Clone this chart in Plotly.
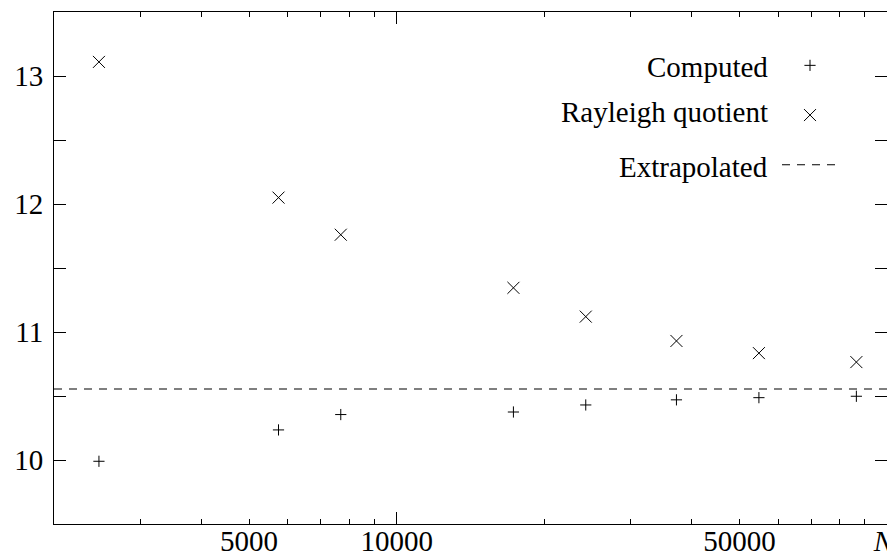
import math
import plotly.graph_objects as go

# ---- data ----
n_values = [2470, 5740, 7690, 17300, 24300, 37200, 54800, 86600]
computed = [9.99, 10.235, 10.355, 10.375, 10.43, 10.47, 10.487, 10.498]
rayleigh = [13.11, 12.05, 11.76, 11.345, 11.12, 10.93, 10.835, 10.765]
extrapolated = 10.555

x_limits = [2000, 100000]
y_limits = [9.5, 13.5]

x_tick_vals = [3000, 4000, 5000, 6000, 7000, 8000, 9000, 10000,
               20000, 30000, 40000, 50000, 60000, 70000, 80000, 90000, 100000]
x_tick_text = ["", "", "5000", "", "", "", "", "10000",
               "", "", "", "50000", "", "", "", "", "<i>N</i>&nbsp;"]
x_major_vals = [10000]
y_tick_vals = [9.5, 10, 10.5, 11, 11.5, 12, 12.5, 13, 13.5]
y_tick_text = ["", "10", "", "11", "", "12", "", "13", ""]

legend_labels = ["Computed", "Rayleigh quotient", "Extrapolated"]

FONT = "Liberation Serif"
FS = 29

# page body has an 8px default margin; size the figure so the plot box
# lands at the same window pixels as the reference
OFF = 8
W, H = 895 - OFF, 558 - OFF
ML, MR, MT, MB = 54 - OFF, 8, 12 - OFF, 34
PW, PH = W - ML - MR, H - MT - MB

fig = go.Figure()
fig.add_trace(go.Scatter(
    x=n_values, y=computed, mode="markers", name="",
    legendgroup="a",
    marker=dict(symbol="cross-thin", size=8, line=dict(color="black", width=1), color="black"),
))
fig.add_trace(go.Scatter(
    x=n_values, y=rayleigh, mode="markers", name="",
    legendgroup="b",
    marker=dict(symbol="x-thin", size=12, line=dict(color="black", width=1), color="black"),
))
fig.add_trace(go.Scatter(
    x=x_limits, y=[extrapolated] * len(x_limits), mode="lines", name="",
    legendgroup="c", xaxis="x2",
    line=dict(color="black", width=1.1, dash="8px,7px"),
))

axis_common = dict(
    showgrid=False, zeroline=False, ticks="inside", tickcolor="black",
    tickwidth=1, tickfont=dict(family=FONT, size=FS, color="black"),
)

fig.update_layout(
    width=W, height=H,
    margin=dict(l=ML, r=MR, t=MT, b=MB, pad=0),
    paper_bgcolor="white", plot_bgcolor="white",
    font=dict(family=FONT, size=FS, color="black"),
    xaxis=dict(
        type="log", range=[math.log10(x_limits[0]), math.log10(x_limits[1])],
        tickmode="array", tickvals=x_tick_vals, ticktext=x_tick_text,
        ticklen=5, showline=True, linecolor="black", linewidth=1, mirror="ticks",
        ticklabelstandoff=-9, ticklabeloverflow="allow",
        automargin=False, **axis_common,
    ),
    xaxis2=dict(
        type="log", range=[math.log10(x_limits[0]), math.log10(x_limits[1])],
        overlaying="x", anchor="y", side="bottom",
        tickmode="array", tickvals=x_major_vals, ticklen=12,
        showticklabels=False, showline=False, mirror="ticks", **axis_common,
    ),
    yaxis=dict(
        range=y_limits, tickmode="array", tickvals=y_tick_vals, ticktext=y_tick_text,
        ticklen=12, showline=True, linecolor="black", linewidth=1, mirror="ticks",
        ticklabelstandoff=4, ticklabeloverflow="allow",
        automargin=False, **axis_common,
    ),
    showlegend=True,
    legend=dict(
        x=(777 - 54) / PW, y=(524 - 40) / PH, xanchor="left", yanchor="top",
        bgcolor="rgba(0,0,0,0)", borderwidth=0,
        font=dict(family=FONT, size=FS, color="black"),
        itemwidth=56, tracegroupgap=9, traceorder="grouped",
        itemclick=False, itemdoubleclick=False,
    ),
)

label_y_px = [67, 112, 167]
for label, py in zip(legend_labels, label_y_px):
    fig.add_annotation(
        text=label, xref="paper", yref="paper",
        x=(770 - 54) / PW, y=(524 - py) / PH,
        xanchor="right", yanchor="middle", showarrow=False,
        font=dict(family=FONT, size=FS, color="black"),
    )

fig.write_html("out.html")
